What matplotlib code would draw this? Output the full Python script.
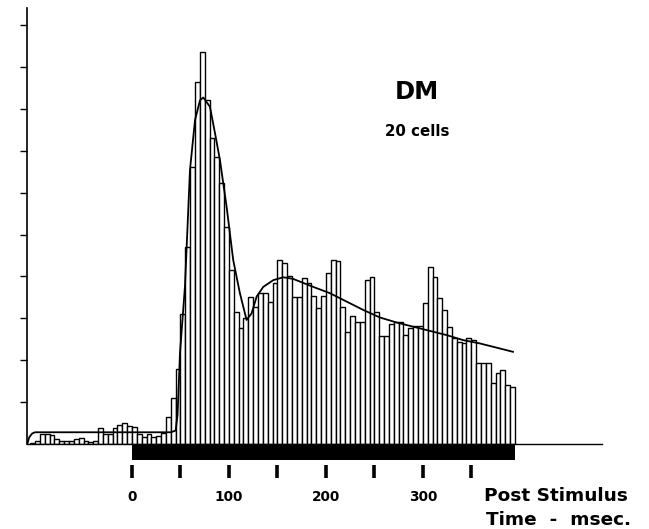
import matplotlib
matplotlib.use("Agg")
import matplotlib.pyplot as plt

plt.rcParams['font.family'] = ['DejaVu Sans']

# ---- data ----
bin_start = -105          # ms, left edge of first bin
bin_width = 5             # ms
counts = [0.3, 0.8, 2.5, 2.5, 2.2, 1.2, 0.8, 0.6, 0.6, 1.2,
          1.5, 0.8, 0.5, 0.8, 3.8, 2.5, 2.5, 3.8, 4.5, 5.1,
          4.3, 4.0, 2.5, 1.7, 2.5, 1.7, 2.0, 2.7, 6.5, 11.0,
          18.0, 31.0, 47.0, 66.0, 86.4, 93.6, 82.0, 73.0, 68.5, 62.3,
          51.8, 41.5, 31.5, 27.7, 30.0, 35.0, 32.7, 36.0, 36.0, 34.0,
          38.4, 43.9, 43.1, 40.0, 35.2, 35.2, 39.5, 38.4, 35.3, 32.4,
          35.3, 40.7, 43.9, 43.7, 32.8, 26.8, 30.5, 29.2, 29.2, 39.1,
          39.9, 31.6, 25.8, 25.8, 28.6, 29.0, 29.0, 26.0, 27.8, 28.2,
          28.2, 33.7, 42.3, 39.9, 34.9, 32.0, 28.0, 25.2, 24.4, 24.0,
          25.2, 24.8, 19.4, 19.4, 19.4, 14.5, 16.9, 17.7, 14.1, 13.7]

curve_t = [-108, -106, -103, -100, -60, 0, 40, 45, 47, 49.5, 54.6, 59.8, 65.0,
           70.1, 73.5, 80.4, 85.6, 90.7, 97.6, 104.4, 111.3, 118.2, 123.4,
           128.6, 135.4, 145.7, 156.0, 166.3, 186.9, 204.1, 221.3, 238.5,
           255.7, 272.9, 290.0, 307.2, 324.4, 341.5, 358.8, 376.0, 393.0]
curve_v = [0.0, 1.6, 2.5, 2.8, 2.8, 2.8, 2.8, 3.2, 7.0, 21.7, 37.5, 65.4, 77.3,
           82.0, 82.7, 80.5, 74.2, 67.8, 56.6, 43.9, 36.0, 29.6, 31.2,
           35.2, 37.5, 39.1, 39.8, 39.4, 37.5, 36.0, 34.0, 32.0,
           30.2, 29.0, 28.0, 27.0, 26.0, 24.8, 24.0, 23.0, 22.0]

stim_on, stim_off = 0, 395
tick_pos = [0, 50, 100, 150, 200, 250, 300, 350]
tick_labels = ["0", "100", "200", "300"]
tick_label_pos = [0, 100, 200, 300]
y_ticks = [10, 20, 30, 40, 50, 60, 70, 80, 90, 100]

# ---- figure ----
W, H = 649, 529
fig = plt.figure(figsize=(W / 100, H / 100), dpi=100)
ax = fig.add_axes([27 / W, (H - 444) / H, 575 / W, 436 / H])
ax.set_xlim(-108.3, 484.8)
ax.set_ylim(0, 104.06)

edges = [bin_start + bin_width * i for i in range(len(counts))]
ax.bar(edges, counts, width=bin_width, align='edge', facecolor='white',
       edgecolor='black', linewidth=1.0, zorder=2)
ax.plot(curve_t, curve_v, color='black', linewidth=1.3, zorder=3)

# stimulus bar under baseline
ax.bar([stim_on], [-3.7], width=stim_off - stim_on, align='edge',
       color='black', clip_on=False, zorder=1)

# x tick marks below the stimulus bar
ax.vlines(tick_pos, -8.0, -5.0, colors='black', linewidth=2.6, clip_on=False)
for p, lab in zip(tick_label_pos, tick_labels):
    ax.text(p, -12.6, lab, ha='center', va='center', fontsize=9.8,
            fontweight='bold', clip_on=False)

for s in ['top', 'right']:
    ax.spines[s].set_visible(False)
ax.spines['left'].set_linewidth(1.2)
ax.spines['bottom'].set_linewidth(1.0)
ax.set_xticks([])
ax.set_yticks(y_ticks)
ax.set_yticklabels([])
ax.tick_params(axis='y', direction='out', length=5, width=1.0)

fig.text(417 / W, 1 - 92 / H, "DM", ha='center', va='center',
         fontsize=17.5, fontweight='bold')
fig.text(417 / W, 1 - 131 / H, "20 cells", ha='center', va='center',
         fontsize=10.8, fontweight='bold')
fig.text(484 / W, 1 - 496 / H, "Post Stimulus", ha='left', va='center',
         fontsize=13.3, fontweight='bold')
fig.text(486 / W, 1 - 520 / H, "Time  -  msec.", ha='left', va='center',
         fontsize=13.3, fontweight='bold')

fig.savefig("out.png", dpi=100)
